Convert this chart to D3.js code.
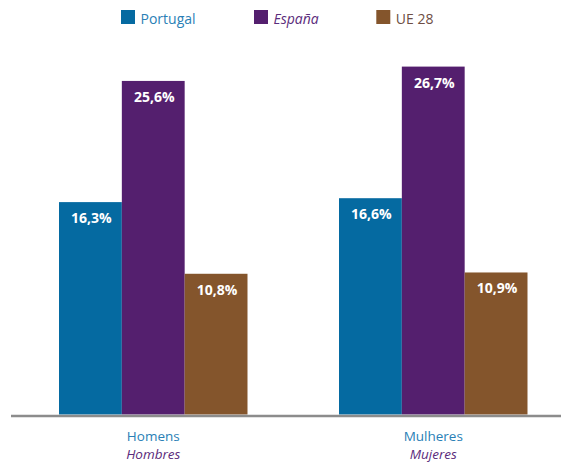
<!DOCTYPE html>
<html>
<head>
<meta charset="utf-8">
<script src="https://cdn.jsdelivr.net/npm/d3@7"></script>
<style>
  body { margin: 0; background: #fff; }
  text { font-family: "Open Sans", sans-serif; }
</style>
</head>
<body>
<div id="chart"></div>
<script>
(function(){
// data
const groups = ["Homens", "Mulheres"];
const groupsEs = ["Hombres", "Mujeres"];
const series = ["Portugal", "España", "UE 28"];
const portugal = [16.3, 16.6];
const espana = [25.6, 26.7];
const ue28 = [10.8, 10.9];

const values = [portugal, espana, ue28];
const rows = [];
series.forEach((s, i) => {
    groups.forEach((g, j) => {
        rows.push({ group: g, series: s, value: values[i][j] });
    });
});

const width = 561, height = 465;
const baseline = 414.5;

const svg = d3.select("#chart")
    .append("svg")
    .attr("width", width)
    .attr("height", height);

// scales
const x0 = d3.scaleBand()
    .domain(groups)
    .range([13.25, 573.25])
    .paddingInner(0.3268)
    .paddingOuter(0.1634);

const x1 = d3.scaleBand()
    .domain(series)
    .range([0, x0.bandwidth()])
    .padding(0);

const y = d3.scaleLinear()
    .domain([0, 30])
    .range([baseline, 23.6]);

const color = d3.scaleOrdinal()
    .domain(series)
    .range(["#056aa1", "#541f6e", "#84552c"]);

// bars
svg.selectAll(".bar")
    .data(rows)
    .enter()
    .append("rect")
    .attr("class", "bar")
    .attr("x", d => x0(d.group) + x1(d.series))
    .attr("y", d => y(d.value))
    .attr("width", x1.bandwidth())
    .attr("height", d => baseline - y(d.value))
    .attr("fill", d => color(d.series));

// value labels
svg.selectAll(".val")
    .data(rows)
    .enter()
    .append("text")
    .attr("class", "val")
    .attr("x", d => x0(d.group) + x1(d.series) + x1.bandwidth() / 2 + 1)
    .attr("y", d => y(d.value) + 21)
    .attr("text-anchor", "middle")
    .attr("fill", "#fff")
    .style("font-size", "14px")
    .style("font-weight", "700")
    .text(d => d.value.toFixed(1).replace(".", ",") + "%");

// baseline
svg.append("line")
    .attr("x1", 11)
    .attr("x2", width)
    .attr("y1", 416)
    .attr("y2", 416)
    .attr("stroke", "#8c8c8c")
    .attr("stroke-width", 2.5);

// category labels
const cats = svg.append("g");
groups.forEach((g, i) => {
    const cx = x0(g) + x0.bandwidth() / 2;
    cats.append("text")
        .attr("x", cx)
        .attr("y", 440.5)
        .attr("text-anchor", "middle")
        .attr("fill", "#2a7fb6")
        .style("font-size", "13.5px")
        .text(g);
    cats.append("text")
        .attr("x", cx)
        .attr("y", 458.5)
        .attr("text-anchor", "middle")
        .attr("fill", "#5b2b7c")
        .style("font-size", "13.5px")
        .style("font-style", "italic")
        .text(groupsEs[i]);
});

// legend
const legendX = [121, 254, 376.3];
const legendText = ["#2a7fb6", "#5b2b7c", "#6e4e44"];
const legend = svg.append("g");
series.forEach((s, i) => {
    legend.append("rect")
        .attr("x", legendX[i])
        .attr("y", 10)
        .attr("width", 14)
        .attr("height", 14)
        .attr("fill", color(s));
    legend.append("text")
        .attr("x", legendX[i] + 19.5)
        .attr("y", 24)
        .attr("fill", legendText[i])
        .style("font-size", "14px")
        .style("font-style", s === "España" ? "italic" : "normal")
        .text(s);
});

})();
</script>
</body>
</html>
